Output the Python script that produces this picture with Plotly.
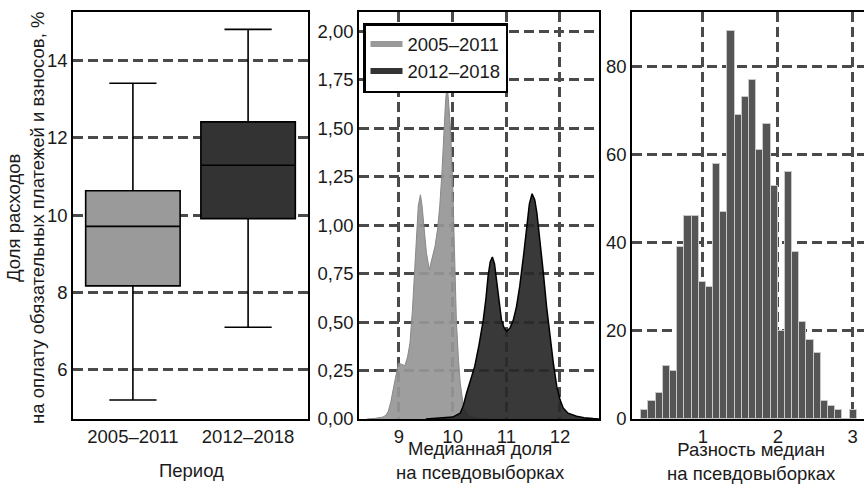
import plotly.graph_objects as go

# ---------------- data ----------------
box_categories = ["2005–2011", "2012–2018"]
box_lower = [5.22, 7.10]
box_q1 = [8.17, 9.91]
box_median = [9.71, 11.29]
box_q3 = [10.63, 12.41]
box_upper = [13.41, 14.80]
box_colors = ["#9a9a9a", "#333333"]

dens_early_x = [8.40, 8.55, 8.70, 8.76, 8.80, 8.85, 8.89, 8.94, 8.99, 9.05, 9.11, 9.16, 9.205,
                9.25, 9.29, 9.33, 9.36, 9.40, 9.43, 9.46, 9.51, 9.565, 9.61, 9.67, 9.72, 9.76,
                9.80, 9.84, 9.87, 9.90, 9.93, 9.96, 10.00, 10.04, 10.07, 10.11, 10.14, 10.20,
                10.27, 10.35, 10.50, 10.70]
dens_early_y = [0.000, 0.003, 0.010, 0.020, 0.040, 0.090, 0.150, 0.220, 0.289, 0.282, 0.275,
                0.320, 0.392, 0.560, 0.753, 0.980, 1.100, 1.157, 1.100, 1.010, 0.860, 0.770,
                0.820, 0.890, 0.980, 1.100, 1.270, 1.500, 1.650, 1.725, 1.620, 1.500, 1.220,
                0.850, 0.500, 0.300, 0.190, 0.065, 0.025, 0.010, 0.003, 0.000]

dens_late_x = [9.50, 9.80, 10.00, 10.14, 10.20, 10.26, 10.33, 10.41, 10.49, 10.57, 10.62, 10.66,
               10.70, 10.74, 10.78, 10.82, 10.87, 10.91, 10.96, 11.006, 11.07, 11.13, 11.19,
               11.25, 11.32, 11.38, 11.43, 11.48, 11.53, 11.57, 11.63, 11.69, 11.75, 11.81,
               11.88, 11.94, 12.00, 12.06, 12.15, 12.31, 12.45, 12.62, 12.75]
dens_late_y = [0.000, 0.005, 0.010, 0.030, 0.070, 0.134, 0.200, 0.270, 0.380, 0.510, 0.620,
               0.736, 0.810, 0.836, 0.800, 0.719, 0.600, 0.510, 0.470, 0.452, 0.470, 0.510,
               0.580, 0.684, 0.840, 0.994, 1.110, 1.162, 1.130, 1.063, 0.920, 0.753, 0.580,
               0.426, 0.280, 0.168, 0.100, 0.057, 0.030, 0.014, 0.006, 0.002, 0.000]

hist_first_center = 0.224
hist_bin_width = 0.0959
hist_counts = [2, 4, 6, 12, 11, 39, 46, 46, 31, 30, 58, 47, 88, 69, 73, 77, 61, 67, 53, 20,
               56, 38, 22, 18, 15, 4, 3, 2, 0, 2]
hist_centers = [hist_first_center + i * hist_bin_width for i in range(len(hist_counts))]

title_left_y = "Доля расходов<br>на оплату обязательных платежей и взносов, %"
title_left_x = "Период"
title_mid_x = "Медианная доля<br>на псевдовыборках"
title_right_x = "Разность медиан<br>на псевдовыборках"

# ---------------- styles ----------------
FONT = "Liberation Sans, Arial, sans-serif"
FS = 18.5
TXT = "#1a1a1a"
GRID = "#4a4a4a"
DASH = "10px,5px"
W, H = 864, 486
ydom = [(H - 419) / H, (H - 12) / H]

fig = go.Figure()

for i, cat in enumerate(box_categories):
    fig.add_trace(go.Box(
        x=[cat], q1=[box_q1[i]], median=[box_median[i]], q3=[box_q3[i]],
        lowerfence=[box_lower[i]], upperfence=[box_upper[i]],
        fillcolor=box_colors[i], line=dict(color="black", width=1.6),
        width=0.82, whiskerwidth=0.5, boxpoints=False, showlegend=False,
        xaxis="x", yaxis="y", name=cat))

fig.add_trace(go.Scatter(
    x=dens_early_x, y=dens_early_y, mode="lines", fill="tozeroy",
    fillcolor="rgba(150,150,150,0.92)", line=dict(color="#888888", width=1),
    showlegend=False, xaxis="x2", yaxis="y2", name=box_categories[0]))
fig.add_trace(go.Scatter(
    x=dens_late_x, y=dens_late_y, mode="lines", fill="tozeroy",
    fillcolor="rgba(40,40,40,0.92)", line=dict(color="black", width=1.5),
    showlegend=False, xaxis="x2", yaxis="y2", name=box_categories[1]))
# legend entries (thick line swatches)
fig.add_trace(go.Scatter(x=[None], y=[None], mode="lines", line=dict(color="#999999", width=6),
                         name=box_categories[0], xaxis="x2", yaxis="y2"))
fig.add_trace(go.Scatter(x=[None], y=[None], mode="lines", line=dict(color="#333333", width=6),
                         name=box_categories[1], xaxis="x2", yaxis="y2"))

fig.add_trace(go.Bar(
    x=hist_centers, y=hist_counts, width=hist_bin_width,
    marker=dict(color="#555555", line=dict(color="#c8c8c8", width=1)),
    showlegend=False, xaxis="x3", yaxis="y3"))

axis_common = dict(showline=True, linecolor="black", linewidth=1.5, ticks="",
                   zeroline=False, automargin=False,
                   tickfont=dict(family=FONT, size=FS, color=TXT),
                   gridcolor=GRID, gridwidth=2.5, griddash=DASH)

ann_font = dict(family=FONT, size=FS, color=TXT)
annotations = [
    dict(text=title_left_y, x=26 / W, y=(H - 218) / H, xref="paper", yref="paper",
         xanchor="center", yanchor="middle", textangle=-90, showarrow=False, font=ann_font),
    dict(text=title_left_x, x=191 / W, y=(H - 470) / H, xref="paper", yref="paper",
         xanchor="center", yanchor="middle", showarrow=False, font=ann_font),
    dict(text=title_mid_x, x=480 / W, y=(H - 460) / H, xref="paper", yref="paper",
         xanchor="center", yanchor="middle", showarrow=False, font=ann_font),
    dict(text=title_right_x, x=751 / W, y=(H - 461) / H, xref="paper", yref="paper",
         xanchor="center", yanchor="middle", showarrow=False, font=ann_font),
]

fig.update_layout(
    width=W, height=H,
    margin=dict(l=0, r=0, t=0, b=0),
    paper_bgcolor="white", plot_bgcolor="white",
    separators=", ",
    font=dict(family=FONT, size=FS, color=TXT),
    bargap=0,
    annotations=annotations,
    xaxis=dict(axis_common, domain=[73 / W, 308 / W], anchor="y", type="category",
               range=[-0.52, 1.52], mirror=True, showgrid=False),
    yaxis=dict(axis_common, domain=ydom, anchor="x", range=[4.73, 15.25],
               tickvals=[6, 8, 10, 12, 14], mirror=True, showgrid=True),
    xaxis2=dict(axis_common, domain=[359 / W, 599 / W], anchor="y2", range=[8.255, 12.727],
                tickvals=[9, 10, 11, 12], mirror=True, showgrid=True),
    yaxis2=dict(axis_common, domain=ydom, anchor="x2", range=[0, 2.1],
                tickvals=[0, 0.25, 0.5, 0.75, 1.0, 1.25, 1.5, 1.75, 2.0], tickformat=".2f",
                mirror=True, showgrid=True),
    xaxis3=dict(axis_common, domain=[632 / W, 1.0], anchor="y3", range=[0.053, 3.15],
                tickvals=[1, 2, 3], mirror=True, showgrid=True),
    yaxis3=dict(axis_common, domain=ydom, anchor="x3", range=[0, 92.4],
                tickvals=[0, 20, 40, 60, 80], mirror=False, showgrid=True),
    legend=dict(x=363 / W, y=(H - 23) / H, xanchor="left", yanchor="top",
                bordercolor="black", borderwidth=2.5, bgcolor="white",
                font=dict(family=FONT, size=FS, color=TXT), itemwidth=32,
                tracegroupgap=0),
)

fig.write_html("out.html")
